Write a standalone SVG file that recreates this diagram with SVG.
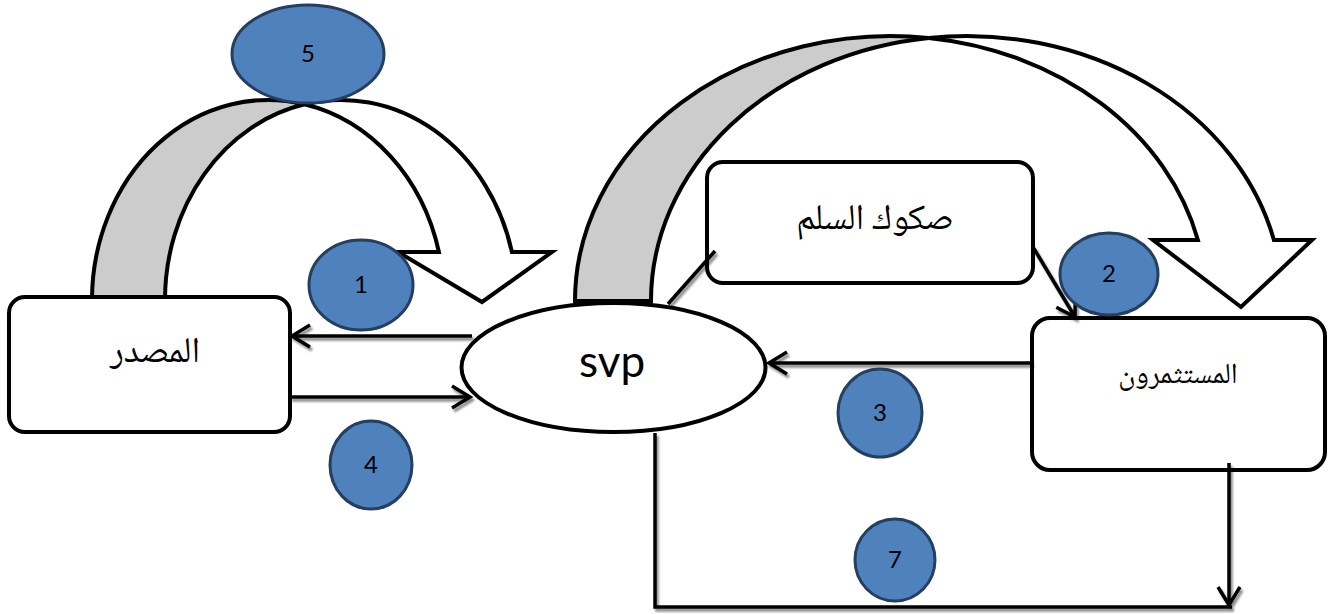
<svg xmlns="http://www.w3.org/2000/svg" width="1328" height="614" viewBox="0 0 1328 614">
  <style>
    .box { fill: #ffffff; stroke: #000000; stroke-width: 4; }
    .band { stroke: #000000; stroke-width: 4; stroke-linejoin: miter; }
    .back { fill: #cccccc; }
    .front { fill: #ffffff; }
    .badge { fill: #4f81bd; stroke: #243f60; stroke-width: 3; }
    .num { font-family: Lato, "Open Sans", sans-serif; font-size: 24px; fill: #000000; text-anchor: middle; }
    .ar { font-family: "Noto Naskh Arabic", "DejaVu Sans", serif; fill: #000000; text-anchor: middle; }
    .lbl { font-family: Lato, "Open Sans", sans-serif; font-size: 44px; fill: #000000; text-anchor: middle; }
    .conn { fill: none; stroke: #000000; stroke-width: 3.5; }
  </style>
  <defs>
    <marker id="head" viewBox="-22 -14 26 28" refX="0" refY="0" markerWidth="26" markerHeight="28" markerUnits="userSpaceOnUse" orient="auto">
      <path d="M-18,-11 L0,0 L-18,11" fill="none" stroke="#000000" stroke-width="3.5"/>
    </marker>
    <filter id="shadow" x="-10%" y="-10%" width="120%" height="130%">
      <feDropShadow dx="2" dy="3" stdDeviation="0.8" flood-color="#000000" flood-opacity="0.45"/>
    </filter>
  </defs>

  <!-- curved arrow over the source: two equal ellipses shifted by the band width -->
  <g id="curve-left">
    <path class="band back" d="M92,300 A176,200 0 0 1 304.5,104.3 A176,200 0 0 0 165,300 Z"/>
    <path class="band front" d="M304.5,104.3 A176,200 0 0 1 511.9,252 L552,252 L482,302 L398,252 L438.9,252 A176,200 0 0 0 304.5,104.3 Z"/>
  </g>

  <!-- large curved arrow from svp over to the investors -->
  <g id="curve-right">
    <path class="band back" d="M575,301 A315.7,265 0 0 1 928.7,37.9 A315.7,265 0 0 0 651,301 Z"/>
    <path class="band front" d="M928.7,37.9 A315.7,265 0 0 1 1273.9,240 L1312,240 L1241,307 L1153,240 L1197.9,240 A315.7,265 0 0 0 928.7,37.9 Z"/>
  </g>

  <g id="node-source">
    <rect class="box" x="9" y="297" width="281" height="135" rx="16"/>
    <text class="ar" x="155" y="362" font-size="36">المصدر</text>
  </g>

  <g id="node-sukuk">
    <rect class="box" x="707" y="162" width="326" height="121" rx="16"/>
    <text class="ar" x="875" y="229" font-size="36">صكوك السلم</text>
  </g>

  <g id="node-investors">
    <rect class="box" x="1032" y="318" width="293" height="152" rx="18"/>
    <text class="ar" x="1178" y="383" font-size="29">المستثمرون</text>
  </g>

  <!-- connectors -->
  <g id="connectors" filter="url(#shadow)">
    <line class="conn" x1="472" y1="336" x2="292" y2="336" marker-end="url(#head)"/>
    <line class="conn" x1="290" y1="397" x2="470" y2="397" marker-end="url(#head)"/>
    <line class="conn" x1="1032" y1="363" x2="769" y2="363" marker-end="url(#head)"/>
    <line class="conn" x1="1033" y1="247" x2="1075" y2="317" marker-end="url(#head)"/>
    <line class="conn" x1="668" y1="304" x2="715" y2="251"/>
    <polyline class="conn" points="655,433 655,607 1232,607"/>
    <line class="conn" x1="1229" y1="463" x2="1229" y2="605" marker-end="url(#head)"/>
  </g>

  <g id="node-svp">
    <ellipse cx="613.5" cy="367.5" rx="152" ry="64.5" fill="#ffffff" stroke="#000000" stroke-width="4"/>
    <text class="lbl" x="612" y="377">svp</text>
  </g>

  <!-- numbered step badges -->
  <g id="step-5">
    <ellipse class="badge" cx="308" cy="54" rx="76" ry="49"/>
    <text class="num" x="308" y="62">5</text>
  </g>
  <g id="step-1">
    <ellipse class="badge" cx="361" cy="285" rx="52" ry="45"/>
    <text class="num" x="361" y="293">1</text>
  </g>
  <g id="step-2">
    <ellipse class="badge" cx="1109" cy="274" rx="49" ry="41"/>
    <text class="num" x="1109" y="282">2</text>
  </g>
  <g id="step-3">
    <ellipse class="badge" cx="880" cy="413" rx="42" ry="44"/>
    <text class="num" x="880" y="421">3</text>
  </g>
  <g id="step-4">
    <ellipse class="badge" cx="371" cy="465" rx="41" ry="44"/>
    <text class="num" x="371" y="473">4</text>
  </g>
  <g id="step-7">
    <ellipse class="badge" cx="895" cy="560" rx="40" ry="41"/>
    <text class="num" x="895" y="568">7</text>
  </g>
</svg>
